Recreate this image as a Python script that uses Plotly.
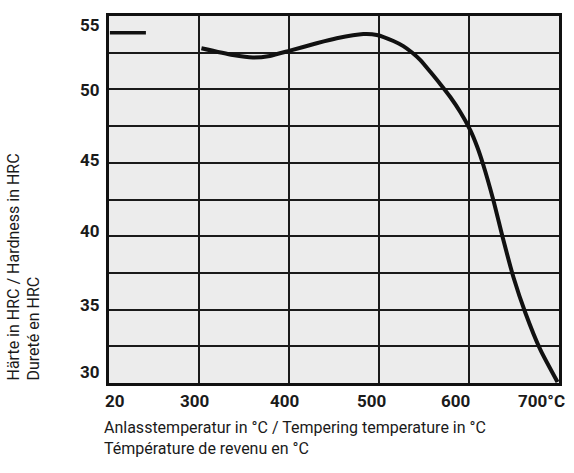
import plotly.graph_objects as go

# ---- data (x in axis units; left edge of the axis is labelled "20") ----
quench_x = [201, 241]
quench_hrc = [53.86, 53.86]

temper_x = [302.7, 337.5, 359.8, 378.7, 401, 430.7, 453, 482.6, 497.6, 516, 527,
            537, 546, 557, 568.0, 579.2, 590.3, 601.4, 609.2, 615.9, 627.0, 638.2,
            649.3, 662.7, 679.4, 698.3]
temper_hrc = [52.80, 52.34, 52.17, 52.28, 52.64, 53.14, 53.48, 53.77, 53.71, 53.30, 52.95,
              52.50, 52.00, 51.20, 50.37, 49.48, 48.46, 47.23, 46.08, 44.85, 42.47, 39.74,
              37.22, 34.77, 32.25, 30.07]

x_tick_vals = [200, 300, 400, 500, 600, 700]
x_tick_text = ["20", "300", "400", "500", "600", "700°C"]
y_tick_vals = [55, 50, 45, 40, 35, 30]
y_tick_text = ["55", "50", "45", "40", "35", "30"]

x_title = "Anlasstemperatur in °C / Tempering temperature in °C<br>Témpérature de revenu en °C"
y_title = "Härte in HRC / Hardness in HRC<br>Dureté en HRC"

# style offsets for tick labels (pixels)
x_label_shift = [6, -5, -5, -8, -14, -18]
y_label_shift = [-9, -1, 3, 5, 5, 11]

TICK_FONT = dict(family="Roboto, sans-serif", size=17, color="#1a1a1a")
TITLE_FONT = dict(family="Roboto, sans-serif", size=16, color="#1a1a1a")

fig = go.Figure()
fig.add_trace(go.Scatter(x=quench_x, y=quench_hrc, mode="lines",
                         line=dict(color="#111111", width=3.5), showlegend=False))
fig.add_trace(go.Scatter(x=temper_x, y=temper_hrc, mode="lines",
                         line=dict(color="#111111", width=4, shape="spline", smoothing=0.6),
                         showlegend=False, cliponaxis=True))

annotations = []
for v, t, s in zip(x_tick_vals, x_tick_text, x_label_shift):
    annotations.append(dict(x=v, xref="x", y=0, yref="paper", text="<b>" + t + "</b>",
                            showarrow=False, xanchor="center", yanchor="top",
                            xshift=s, yshift=-6, font=TICK_FONT))
for v, t, s in zip(y_tick_vals, y_tick_text, y_label_shift):
    annotations.append(dict(x=0, xref="paper", y=v, yref="y", text="<b>" + t + "</b>",
                            showarrow=False, xanchor="right", yanchor="middle",
                            xshift=-7, yshift=s, font=TICK_FONT))
annotations.append(dict(x=0, xref="paper", y=0, yref="paper", text=x_title,
                        showarrow=False, xanchor="left", yanchor="top", align="left",
                        xshift=-7, yshift=-33, font=TITLE_FONT))
annotations.append(dict(x=0, xref="paper", y=0, yref="paper", text=y_title,
                        showarrow=False, xanchor="center", yanchor="bottom", align="left",
                        textangle=-90, xshift=-86, yshift=0, font=TITLE_FONT))

fig.update_layout(
    width=574, height=473,
    margin=dict(l=109, r=15, t=16, b=90),
    paper_bgcolor="white",
    plot_bgcolor="#ececec",
    annotations=annotations,
    hovermode=False,
    xaxis=dict(range=[200, 700], tickvals=x_tick_vals[1:-1], showticklabels=False,
               showgrid=True, gridcolor="#1a1a1a", gridwidth=1.6, zeroline=False,
               showline=True, linecolor="#111111", linewidth=3, mirror=True, ticks=""),
    yaxis=dict(range=[30, 55], tick0=30, dtick=2.5, showticklabels=False,
               showgrid=True, gridcolor="#1a1a1a", gridwidth=1.6, zeroline=False,
               showline=True, linecolor="#111111", linewidth=3, mirror=True, ticks=""),
)

fig.write_html("out.html", config={"displayModeBar": False},
               post_script="document.body.style.margin='0';")
